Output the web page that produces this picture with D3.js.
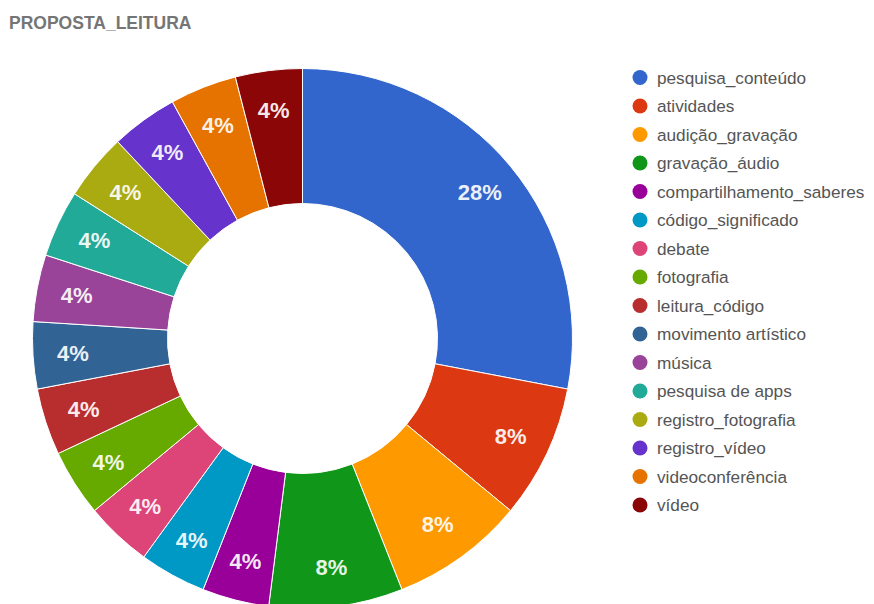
<!DOCTYPE html>
<html>
<head>
<meta charset="utf-8">
<script src="https://cdn.jsdelivr.net/npm/d3@7"></script>
<style>
  html, body { margin: 0; padding: 0; background: #ffffff; }
  svg { display: block; font-family: "Liberation Sans", Arial, sans-serif; }
</style>
</head>
<body>
<svg id="chart" width="874" height="604"></svg>
<script>
// Categories of the reading proposal and their response counts
const categories = [
  "pesquisa_conteúdo", "atividades", "audição_gravação", "gravação_áudio",
  "compartilhamento_saberes", "código_significado", "debate", "fotografia",
  "leitura_código", "movimento artístico", "música", "pesquisa de apps",
  "registro_fotografia", "registro_vídeo", "videoconferência", "vídeo"
];
const counts = [7, 2, 2, 2, 1, 1, 1, 1, 1, 1, 1, 1, 1, 1, 1, 1];
const colors = [
  "#3366cc", "#dc3912", "#ff9900", "#109618", "#990099", "#0099c6",
  "#dd4477", "#66aa00", "#b82e2e", "#316395", "#994499", "#22aa99",
  "#aaaa11", "#6633cc", "#e67300", "#8b0707"
];
const title = "PROPOSTA_LEITURA";

const svg = d3.select("#chart");
const cx = 302.5, cy = 338.5, outerR = 270, innerR = 135, labelR = 230;

const data = categories.map((c, i) => ({ name: c, value: counts[i] }));
const total = d3.sum(counts);

const color = d3.scaleOrdinal().domain(categories).range(colors);
const pie = d3.pie().value(d => d.value).sort(null).startAngle(0).endAngle(2 * Math.PI);
const arc = d3.arc().innerRadius(innerR).outerRadius(outerR);
const labelArc = d3.arc().innerRadius(labelR).outerRadius(labelR);

// Title
svg.append("text")
  .attr("x", 9).attr("y", 29)
  .attr("fill", "#757575")
  .attr("font-size", 17.5)
  .attr("font-weight", "bold")
  .text(title);

// Donut slices
const g = svg.append("g").attr("transform", `translate(${cx},${cy})`);
const arcs = pie(data);
g.selectAll("path.slice")
  .data(arcs)
  .join("path")
  .attr("class", "slice")
  .attr("d", arc)
  .attr("fill", d => color(d.data.name))
  .attr("stroke", "#ffffff")
  .attr("stroke-width", 1);

// Percentage labels
g.selectAll("text.pct")
  .data(arcs)
  .join("text")
  .attr("class", "pct")
  .attr("transform", d => `translate(${labelArc.centroid(d)})`)
  .attr("text-anchor", "middle")
  .attr("dy", "0.36em")
  .attr("fill", "#ffffff")
  .attr("fill-opacity", 0.92)
  .attr("font-size", 22)
  .attr("font-weight", "bold")
  .text(d => Math.round(d.data.value / total * 100) + "%");

// Legend
const legend = svg.append("g");
const rowY = d3.scaleLinear().domain([0, 1]).range([77.5, 106]);
const items = legend.selectAll("g")
  .data(categories)
  .join("g")
  .attr("transform", (d, i) => `translate(640,${rowY(i)})`);
items.append("circle")
  .attr("r", 7.5)
  .attr("fill", d => color(d));
items.append("text")
  .attr("x", 17)
  .attr("y", 6)
  .attr("fill", "#555555")
  .attr("font-size", 17.2)
  .text(d => d);
</script>
</body>
</html>
